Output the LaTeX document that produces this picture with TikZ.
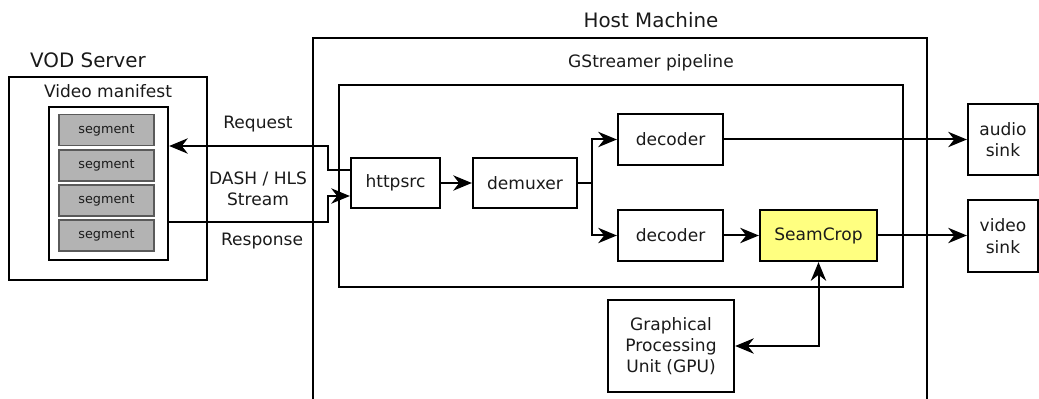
\documentclass[tikz,border=0pt]{standalone}
\usepackage{fontspec}
\setmainfont{DejaVu Sans}
\usetikzlibrary{arrows.meta}
\definecolor{segfill}{HTML}{B3B3B3}
\definecolor{segline}{HTML}{5A5A5A}
\definecolor{seamfill}{HTML}{FFFF80}
\definecolor{txt}{HTML}{1A1A1A}
\tikzset{
  tip/.tip={Stealth[length=14pt, width=11.5pt, inset=4.5pt]},
  box/.style={draw=black, line width=1.7pt, inner sep=0pt, align=center, text=txt,
    font=\fontsize{12.8}{16}\selectfont},
  seg/.style={draw=segline, fill=segfill, line width=1.2pt, inner sep=0pt, text=txt,
    minimum width=71.25pt, minimum height=23.25pt, font=\fontsize{9.6}{11}\selectfont},
  lbl/.style={inner sep=0pt, align=center, text=txt, font=\fontsize{12.8}{16}\selectfont},
  ttl/.style={inner sep=0pt, align=center, text=txt, font=\fontsize{14.9}{18}\selectfont},
  arr/.style={line width=1.5pt, -tip},
  darr/.style={line width=1.5pt, tip-tip},
  ln/.style={line width=1.5pt}
}
\begin{document}
\begin{tikzpicture}[x=0.75pt,y=-0.75pt]
\useasboundingbox (0,0) rectangle (1039,399);
% VOD server
\node[ttl] (vodt) at (88,60) {VOD Server};
\node[box, minimum width=148.5pt, minimum height=152.25pt] (vod) at (108,178.5) {};
\node[lbl] (vmt) at (108,91) {Video manifest};
\node[box, minimum width=89.25pt, minimum height=114.75pt] (manifest) at (108.5,183.5) {};
\node[seg] (s1) at (106.5,130) {segment};
\node[seg] (s2) at (106.5,165.5) {segment};
\node[seg] (s3) at (106.5,200.5) {segment};
\node[seg] (s4) at (106.5,235.5) {segment};
% host machine
\node[ttl] (hostt) at (651,20) {Host Machine};
\coordinate (hbl) at (313,401);
\coordinate (hbr) at (927,401);
\draw[line width=1.7pt] (hbl) -- (313,38) -- (927,38) -- (hbr);
\node[lbl] (pipet) at (651,63) {GStreamer pipeline};
\node[box, minimum width=423pt, minimum height=151.5pt] (pipe) at (621,186) {};
% elements
\node[box, minimum width=66.75pt, minimum height=37.5pt] (httpsrc) at (395.5,183) {httpsrc};
\node[box, minimum width=78pt, minimum height=37.5pt] (demux) at (525,183) {demuxer};
\node[box, minimum width=78.75pt, minimum height=38.25pt] (dec1) at (670.5,139.5) {decoder};
\node[box, minimum width=78.75pt, minimum height=38.25pt] (dec2) at (670.5,235.5) {decoder};
\node[box, fill=seamfill, minimum width=87.75pt, minimum height=38.25pt] (seam) at (818.5,235.5) {SeamCrop};
\node[box, minimum width=52.5pt, minimum height=53.25pt] (audio) at (1003,139.5) {audio\\sink};
\node[box, minimum width=52.5pt, minimum height=54pt] (video) at (1003,236) {video\\sink};
\node[box, minimum width=94.5pt, minimum height=69pt] (gpu) at (671,346) {Graphical\\Processing\\Unit (GPU)};
% labels
\node[lbl] (req) at (258,124) {Request};
\node[lbl] (dash) at (258,188.5) {DASH / HLS\\Stream};
\node[lbl] (resp) at (262,241) {Response};
% connectors
\coordinate (rq) at (328,146);
\coordinate (rs) at (328,222);
\draw[arr] ([yshift=9.75pt]httpsrc.west) -| (rq) -- (manifest.east |- rq);
\draw[arr] (manifest.east |- rs) -- (rs) |- ([yshift=-9.75pt]httpsrc.west);
\draw[arr] (httpsrc) -- (demux);
\coordinate (br) at (592,183);
\draw[ln] (demux.east) -- (br);
\draw[arr] (br) |- (dec1.west);
\draw[arr] (br) |- (dec2.west);
\draw[arr] (dec1.east) -- (audio.west |- dec1.east);
\draw[arr] (dec2) -- (seam);
\draw[arr] (seam.east) -- (video.west |- seam.east);
\draw[darr] (gpu.east) -| (seam.south);
\end{tikzpicture}
\end{document}
